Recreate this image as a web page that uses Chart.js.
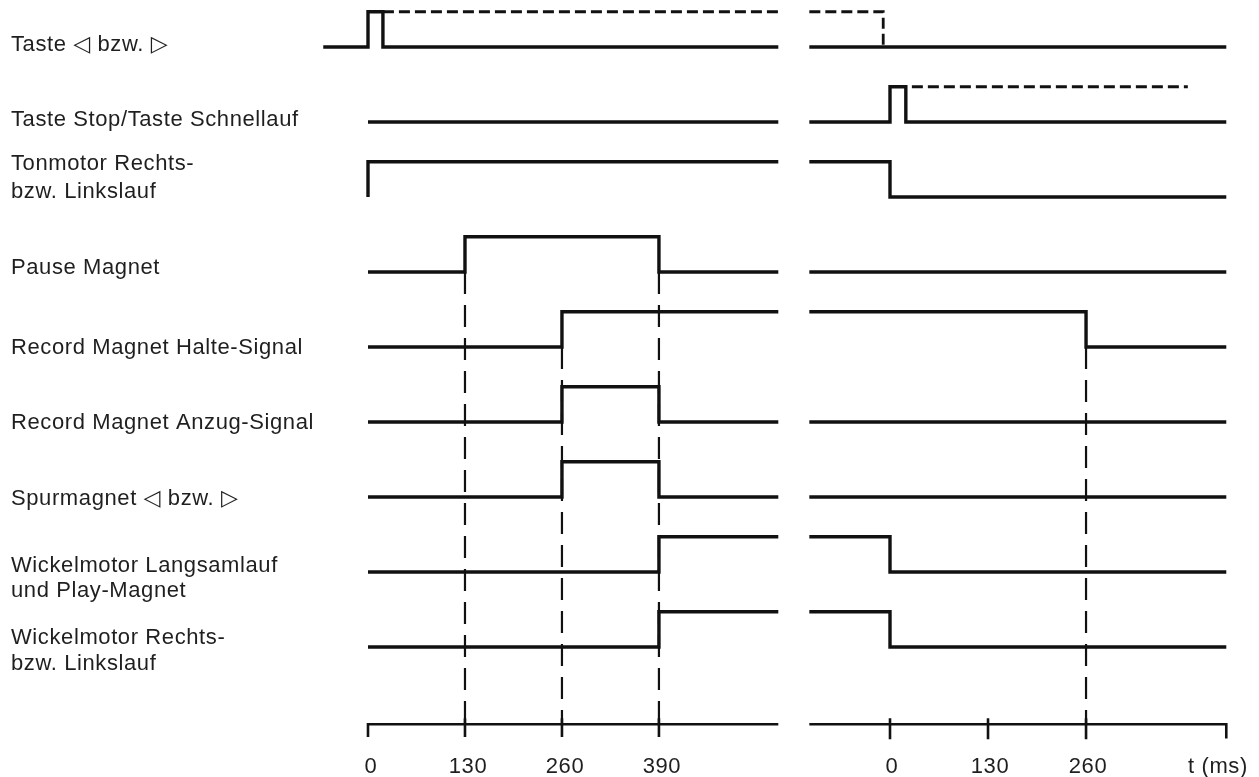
<!DOCTYPE html>
<html>
<head>
<meta charset="utf-8">
<script src="https://cdn.jsdelivr.net/npm/chart.js@4"></script>
<style>
  html, body { margin: 0; padding: 0; background: #fff; }
  #wrap { width: 1259px; height: 777px; position: relative; }
</style>
</head>
<body>
<div id="wrap"><canvas id="timing"></canvas></div>
<script>
// Signal names (one entry per row, lines of the label)
const rowLabels = [
  ['Taste ◁ bzw. ▷'],
  ['Taste Stop/Taste Schnellauf'],
  ['Tonmotor Rechts-', 'bzw. Linkslauf'],
  ['Pause Magnet'],
  ['Record Magnet Halte-Signal'],
  ['Record Magnet Anzug-Signal'],
  ['Spurmagnet ◁ bzw. ▷'],
  ['Wickelmotor Langsamlauf', 'und Play-Magnet'],
  ['Wickelmotor Rechts-', 'bzw. Linkslauf']
];

// Left diagram: [t (ms), level] at every change (0 = low, 1 = high)
const tasteL        = [[-60, 0], [0, 1], [20, 0], [550, 0]];
const stopL         = [[0, 0], [550, 0]];
const tonmotorL     = [[0, 0], [0, 1], [550, 1]];
const pauseL        = [[0, 0], [130, 1], [390, 0], [550, 0]];
const halteL        = [[0, 0], [260, 1], [550, 1]];
const anzugL        = [[0, 0], [260, 1], [390, 0], [550, 0]];
const spurL         = [[0, 0], [260, 1], [390, 0], [550, 0]];
const wickelLangL   = [[0, 0], [390, 1], [550, 1]];
const wickelRechtsL = [[0, 0], [390, 1], [550, 1]];

// Right diagram
const tasteR        = [[-107, 0], [446, 0]];
const stopR         = [[-107, 0], [0, 1], [21, 0], [446, 0]];
const tonmotorR     = [[-107, 1], [0, 0], [446, 0]];
const pauseR        = [[-107, 0], [446, 0]];
const halteR        = [[-107, 1], [260, 0], [446, 0]];
const anzugR        = [[-107, 0], [446, 0]];
const spurR         = [[-107, 0], [446, 0]];
const wickelLangR   = [[-107, 1], [0, 0], [446, 0]];
const wickelRechtsR = [[-107, 1], [0, 0], [446, 0]];

// Held key states (dashed)
const tasteHoldL = [[20, 1], [550, 1]];
const tasteHoldR = [[-107, 1], [-9, 0]];
const stopHoldR  = [[29, 1], [395, 1]];

// Dashed guide lines: time and the row they start from
const guideTimesL = [130, 260, 390];
const guideRowsL  = [3, 4, 3];
const guideTimesR = [260];
const guideRowsR  = [4];

// Time axis
const axisRangeL = [0, 550];
const axisRangeR = [-107, 446];
const ticksL = [0, 130, 260, 390];
const ticksR = [0, 130, 260];
const axisTitle = 't (ms)';
const axisTitleAt = 435;

const leftSignals  = [tasteL, stopL, tonmotorL, pauseL, halteL, anzugL, spurL, wickelLangL, wickelRechtsL];
const rightSignals = [tasteR, stopR, tonmotorR, pauseR, halteR, anzugR, spurR, wickelLangR, wickelRechtsR];

// layout
const HIGH = 0.47;        // height of a high level, in rows
const AXIS_ROW = 9.03;
const labelShift = [[-0.06], [-0.06], [-0.47, -0.1], [-0.08], [-0.01], [-0.01], [0], [-0.107, 0.227], [-0.147, 0.2]];
const INK = '#111';
const TEXT = '#1f1f1f';
const FONT = "22px 'Liberation Sans', 'DejaVu Sans', sans-serif";

function toXY(steps, row) {
  return steps.map(([t, lv]) => ({ x: t, y: row - lv * HIGH }));
}

function line(data, axis, extra) {
  return Object.assign({
    data, xAxisID: axis, yAxisID: 'y',
    borderColor: INK, borderWidth: 3.4, pointRadius: 0,
    fill: false, borderJoinStyle: 'miter', borderCapStyle: 'butt'
  }, extra || {});
}

const datasets = [];

// signal traces
leftSignals.forEach((s, i) => datasets.push(line(toXY(s, i), 'xL', { stepped: true })));
rightSignals.forEach((s, i) => datasets.push(line(toXY(s, i), 'xR', { stepped: true })));

// held key states
const holdStyle = { stepped: true, borderDash: [11, 5], borderWidth: 2.8 };
datasets.push(line(toXY(tasteHoldL, 0), 'xL', holdStyle));
datasets.push(line(toXY(tasteHoldR, 0), 'xR', holdStyle));
datasets.push(line(toXY(stopHoldR, 1), 'xR', holdStyle));

// vertical guides
const guideStyle = { borderDash: [22, 11], borderWidth: 2.2 };
guideTimesL.forEach((t, i) => datasets.push(line([{ x: t, y: guideRowsL[i] }, { x: t, y: AXIS_ROW }], 'xL', guideStyle)));
guideTimesR.forEach((t, i) => datasets.push(line([{ x: t, y: guideRowsR[i] }, { x: t, y: AXIS_ROW }], 'xR', guideStyle)));

// time axes (with end corners)
const axisStyle = { borderWidth: 2.6 };
datasets.push(line([{ x: axisRangeL[0], y: AXIS_ROW + 0.17 }, { x: axisRangeL[0], y: AXIS_ROW }, { x: axisRangeL[1], y: AXIS_ROW }], 'xL', axisStyle));
datasets.push(line([{ x: axisRangeR[0], y: AXIS_ROW }, { x: axisRangeR[1], y: AXIS_ROW }, { x: axisRangeR[1], y: AXIS_ROW + 0.19 }], 'xR', axisStyle));
ticksL.filter(t => t !== axisRangeL[0]).forEach(t =>
  datasets.push(line([{ x: t, y: AXIS_ROW - 0.08 }, { x: t, y: AXIS_ROW + 0.17 }], 'xL', axisStyle)));
ticksR.forEach(t =>
  datasets.push(line([{ x: t, y: AXIS_ROW - 0.08 }, { x: t, y: AXIS_ROW + 0.2 }], 'xR', axisStyle)));

// text: row labels and tick labels
const textPlugin = {
  id: 'timingText',
  afterDraw(chart) {
    const ctx = chart.ctx;
    const y = chart.scales.y, xL = chart.scales.xL, xR = chart.scales.xR;
    ctx.save();
    ctx.fillStyle = TEXT;
    ctx.font = FONT;
    ctx.letterSpacing = '0.6px';
    ctx.textBaseline = 'alphabetic';
    ctx.textAlign = 'left';
    rowLabels.forEach((lines, i) => {
      lines.forEach((txt, j) => {
        const cy = y.getPixelForValue(i + labelShift[i][j]);
        ctx.fillText(txt, 11, cy + 8);
      });
    });
    ctx.textAlign = 'center';
    const by = y.getPixelForValue(AXIS_ROW) + 49;
    ticksL.forEach(t => ctx.fillText(String(t), xL.getPixelForValue(t) + 3, by));
    ticksR.forEach(t => ctx.fillText(String(t), xR.getPixelForValue(t) + 2, by));
    ctx.fillText(axisTitle, xR.getPixelForValue(axisTitleAt), by);
    ctx.restore();
  }
};

new Chart(document.getElementById('timing'), {
  type: 'line',
  data: { datasets },
  options: {
    responsive: true,
    maintainAspectRatio: false,
    animation: false,
    layout: { padding: 0 },
    plugins: { legend: { display: false }, tooltip: { enabled: false } },
    scales: {
      xL: { type: 'linear', display: false, min: -368 / 0.746, max: (1259 - 368) / 0.746 },
      xR: { type: 'linear', display: false, min: -890 / 0.754, max: (1259 - 890) / 0.754 },
      y:  { type: 'linear', display: false, reverse: true, min: -47 / 75, max: (777 - 47) / 75 }
    }
  },
  plugins: [textPlugin]
});
</script>
</body>
</html>
